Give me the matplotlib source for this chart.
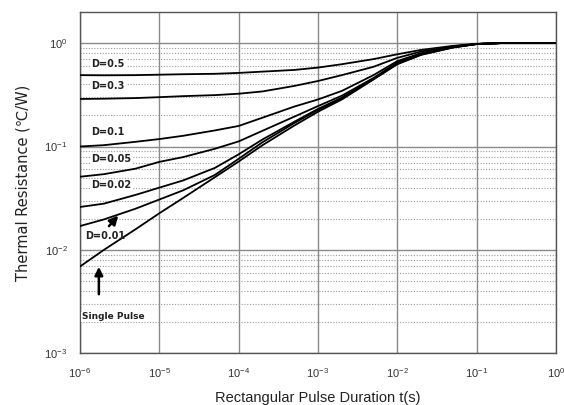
import numpy as np
import matplotlib
matplotlib.use('Agg')
import matplotlib.pyplot as plt
from matplotlib.ticker import FixedLocator, NullFormatter, NullLocator

# pulse duration (s)
t = [1e-6, 2e-6, 5e-6, 1e-5, 2e-5, 5e-5, 1e-4, 2e-4, 5e-4, 1e-3,
     2e-3, 5e-3, 1e-2, 2e-2, 5e-2, 1e-1, 2e-1, 5e-1, 1.0]

# thermal resistance (C/W)
d_05 = [0.49, 0.488, 0.49, 0.495, 0.50, 0.505, 0.515, 0.53, 0.55, 0.58,
        0.625, 0.70, 0.78, 0.86, 0.94, 0.985, 1.0, 1.0, 1.0]
d_03 = [0.288, 0.29, 0.294, 0.30, 0.307, 0.314, 0.324, 0.341, 0.385, 0.43,
        0.49, 0.59, 0.72, 0.83, 0.93, 0.98, 1.0, 1.0, 1.0]
d_01 = [0.100, 0.103, 0.111, 0.118, 0.127, 0.143, 0.158, 0.19, 0.243, 0.285,
        0.345, 0.49, 0.67, 0.80, 0.92, 0.98, 1.0, 1.0, 1.0]
d_005 = [0.051, 0.054, 0.061, 0.071, 0.079, 0.095, 0.112, 0.142, 0.194, 0.246,
         0.31, 0.46, 0.65, 0.79, 0.915, 0.98, 1.0, 1.0, 1.0]
d_002 = [0.026, 0.028, 0.034, 0.040, 0.047, 0.062, 0.084, 0.117, 0.173, 0.231,
         0.297, 0.45, 0.635, 0.78, 0.91, 0.98, 1.0, 1.0, 1.0]
d_001 = [0.017, 0.0197, 0.025, 0.0307, 0.0377, 0.053, 0.076, 0.11, 0.168, 0.226,
         0.292, 0.45, 0.63, 0.775, 0.91, 0.98, 1.0, 1.0, 1.0]
single = [0.0069, 0.0100, 0.0158, 0.0226, 0.0318, 0.0504, 0.0715, 0.103, 0.159, 0.217,
          0.285, 0.445, 0.625, 0.77, 0.905, 0.98, 1.0, 1.0, 1.0]

curves = [d_05, d_03, d_01, d_005, d_002, d_001, single]

# axis ticks
x_ticks = [1e-6, 1e-5, 1e-4, 1e-3, 1e-2, 1e-1, 1.0]
y_ticks = [1e-3, 1e-2, 1e-1, 1.0]

# label text and where it sits (Zth)
labels = ['D=0.5', 'D=0.3', 'D=0.1', 'D=0.05', 'D=0.02']
label_y = [0.63, 0.385, 0.139, 0.075, 0.042]

plt.rcParams['font.family'] = ['Liberation Sans', 'DejaVu Sans']

fig = plt.figure(figsize=(5.64, 4.05), dpi=100)
ax = fig.add_axes([0.1418, 0.1277, 0.844, 0.8427])

for z in curves:
    ax.plot(t, z, color='black', lw=1.3, zorder=3)

ax.set_xscale('log')
ax.set_yscale('log')
ax.set_xlim(1e-6, 1)
ax.set_ylim(1e-3, 2.0)

ax.xaxis.set_major_locator(FixedLocator(x_ticks))
ax.yaxis.set_major_locator(FixedLocator(y_ticks))
minor_y = [m * 10.0 ** e for e in range(-3, 0) for m in range(2, 10)]
ax.yaxis.set_minor_locator(FixedLocator(minor_y))
ax.yaxis.set_minor_formatter(NullFormatter())
ax.xaxis.set_minor_locator(NullLocator())

ax.grid(True, which='major', axis='both', color='#8a8a8a', lw=1.0, zorder=1)
ax.grid(True, which='minor', axis='y', color='#9a9a9a', lw=0.8, ls=(0, (1, 1.5)), zorder=1)
ax.tick_params(which='both', length=0, pad=9, labelsize=8, colors='#333333')

for s in ax.spines.values():
    s.set_color('#555555')
    s.set_linewidth(1.0)

for txt, yv in zip(labels, label_y):
    ax.text(1.4e-6, yv, txt, fontsize=7, fontweight='bold', family=['DejaVu Sans'],
            va='center', ha='left', color='#222222', zorder=4,
            bbox=dict(facecolor='white', edgecolor='none', pad=0.5))

ax.text(1.15e-6, 0.0137, 'D=0.01', fontsize=7, fontweight='bold', family=['DejaVu Sans'],
        va='center', ha='left', color='#222222', zorder=4)
ax.text(1.05e-6, 0.00225, 'Single Pulse', fontsize=6.5, fontweight='bold', family=['DejaVu Sans'],
        va='center', ha='left', color='#222222', zorder=4,
        bbox=dict(facecolor='white', edgecolor='none', pad=0.5))

ax.annotate('', xy=(3.2e-6, 0.0225), xytext=(2.2e-6, 0.0162),
            arrowprops=dict(arrowstyle='-|>', color='black', lw=1.8, mutation_scale=13), zorder=5)
ax.annotate('', xy=(1.73e-6, 0.0073), xytext=(1.73e-6, 0.0035),
            arrowprops=dict(arrowstyle='-|>', color='black', lw=1.8, mutation_scale=12), zorder=5)

ax.set_xlabel('Rectangular Pulse Duration t(s)', fontsize=10.5, color='#222222', labelpad=8)
ax.set_ylabel('Thermal Resistance (\u2103/W)', fontsize=10.5, color='#222222', labelpad=10,
              family=['DejaVu Sans'])

fig.savefig('out.png', dpi=100)
